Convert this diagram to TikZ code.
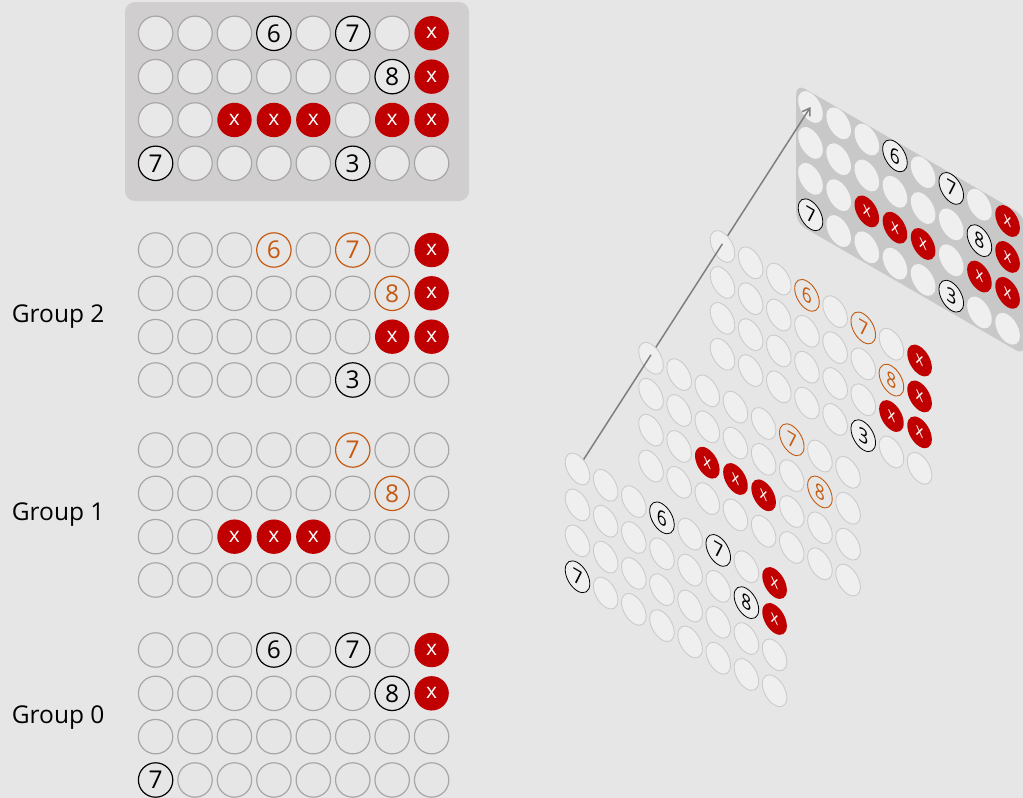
\documentclass[tikz,border=0pt]{standalone}
\usepackage{fontspec}
\setmainfont{Open Sans}
\usetikzlibrary{calc,arrows.meta}
\definecolor{bg}{HTML}{E6E6E6}
\definecolor{panel}{HTML}{D0CECE}
\definecolor{cellfill}{HTML}{E8E8E8}
\definecolor{cellline}{HTML}{A6A6A6}
\definecolor{redx}{HTML}{C00000}
\definecolor{orng}{HTML}{C55A11}
\definecolor{tdfill}{HTML}{EFEFEF}
\definecolor{tdline}{HTML}{CBCBCB}
\definecolor{tdpanel}{HTML}{C8C8C8}
\definecolor{arrowgray}{HTML}{7F7F7F}
\pgfdeclarelayer{L0}
\pgfdeclarelayer{L1}
\pgfdeclarelayer{L2}
\pgfdeclarelayer{L3}
\pgfdeclarelayer{L4}
\pgfdeclarelayer{L5}
\pgfsetlayers{L0,L1,L2,L3,L4,L5,main}
\newcommand\cellrow[3]{\foreach \s/\t [count=\i from 0] in {#3} {\node[cell-\s] (#1-#2-\i) at ({\i*39.43},{#2*43.33}) {\t};}}
\newcommand\gridT[1]{%
  \cellrow{#1}{0}{e/{},e/{},e/{},k/6,e/{},k/7,e/{},r/x}
  \cellrow{#1}{1}{e/{},e/{},e/{},e/{},e/{},e/{},k/8,r/x}
  \cellrow{#1}{2}{e/{},e/{},r/x,r/x,r/x,e/{},r/x,r/x}
  \cellrow{#1}{3}{k/7,e/{},e/{},e/{},e/{},k/3,e/{},e/{}}}
\newcommand\gridB[1]{%
  \cellrow{#1}{0}{e/{},e/{},e/{},o/6,e/{},o/7,e/{},r/x}
  \cellrow{#1}{1}{e/{},e/{},e/{},e/{},e/{},e/{},o/8,r/x}
  \cellrow{#1}{2}{e/{},e/{},e/{},e/{},e/{},e/{},r/x,r/x}
  \cellrow{#1}{3}{e/{},e/{},e/{},e/{},e/{},k/3,e/{},e/{}}}
\newcommand\gridA[1]{%
  \cellrow{#1}{0}{e/{},e/{},e/{},e/{},e/{},o/7,e/{},e/{}}
  \cellrow{#1}{1}{e/{},e/{},e/{},e/{},e/{},e/{},o/8,e/{}}
  \cellrow{#1}{2}{e/{},e/{},r/x,r/x,r/x,e/{},e/{},e/{}}
  \cellrow{#1}{3}{e/{},e/{},e/{},e/{},e/{},e/{},e/{},e/{}}}
\newcommand\gridZ[1]{%
  \cellrow{#1}{0}{e/{},e/{},e/{},k/6,e/{},k/7,e/{},r/x}
  \cellrow{#1}{1}{e/{},e/{},e/{},e/{},e/{},e/{},k/8,r/x}
  \cellrow{#1}{2}{e/{},e/{},e/{},e/{},e/{},e/{},e/{},e/{}}
  \cellrow{#1}{3}{k/7,e/{},e/{},e/{},e/{},e/{},e/{},e/{}}}
\begin{document}
\begin{tikzpicture}[x=1pt,y=-1pt,
  cell/.style={circle, minimum size=34.4pt, inner sep=0pt, font=\fontsize{24.5}{24.5}\selectfont},
  emptycell/.style={draw=cellline, line width=1.2pt},
  blackcell/.style={draw=black, line width=1.2pt},
  orangecell/.style={draw=orng, text=orng, line width=1.2pt},
  redcell/.style={fill=redx, text=white, font=\fontsize{21}{21}\selectfont},
  cell-e/.style={cell, emptycell},
  cell-k/.style={cell, blackcell},
  cell-o/.style={cell, orangecell},
  cell-r/.style={cell, redcell},
  topgrid/.style={emptycell/.style={draw=cellline, fill=cellfill, line width=1.2pt},
                  blackcell/.style={draw=black, fill=cellfill, line width=1.2pt}},
  tdgrid/.style={transform shape,
                 emptycell/.style={draw=tdline, fill=tdfill, line width=0.9pt},
                 blackcell/.style={draw=black, fill=tdfill, line width=0.8pt},
                 orangecell/.style={draw=orng, text=orng, line width=0.9pt}},
  tdback/.style={tdgrid, emptycell/.style={fill=tdfill}},
  lbl/.style={font=\fontsize{24.5}{28}\selectfont, inner sep=0pt, anchor=base west},
  axis/.style={draw=arrowgray, line width=1.5pt}]
\begin{pgfonlayer}{L0}
\fill[bg] (0,0) rectangle (1023,798);
\end{pgfonlayer}
\useasboundingbox (0,0) rectangle (1023,798);
% flat grids
\fill[panel, rounded corners=10pt] (125,2) rectangle (469,201);
\begin{scope}[shift={(155.6,33.3)}, topgrid]
  \gridT{ft}
\end{scope}
\begin{scope}[shift={(155.6,250)}]
  \gridB{fb}
\end{scope}
\begin{scope}[shift={(155.6,450)}]
  \gridA{fa}
\end{scope}
\begin{scope}[shift={(155.6,650)}]
  \gridZ{fz}
\end{scope}
\node[lbl] (lab2) at (11.7,322) {Group 2};
\node[lbl] (lab1) at (11.7,520.5) {Group 1};
\node[lbl] (lab0) at (11.7,723.5) {Group 0};
% 3D planes
\begin{pgfonlayer}{L0}
\begin{scope}[shift={(810.5,107)}, cm={0.714,-0.413,0,0.829,(0,0)}, tdback]
  \fill[tdpanel, rounded corners=10pt] (-20,-18) rectangle (300,150);
  \gridT{dt}
\end{scope}
\end{pgfonlayer}
\begin{pgfonlayer}{L2}
\begin{scope}[shift={(722.5,246.5)}, cm={0.714,-0.413,0,0.829,(0,0)}, tdgrid]
  \gridB{db}
\end{scope}
\end{pgfonlayer}
\begin{pgfonlayer}{L4}
\begin{scope}[shift={(651,358.3)}, cm={0.714,-0.413,0,0.829,(0,0)}, tdgrid]
  \gridA{da}
\end{scope}
\end{pgfonlayer}
\begin{scope}[shift={(577.5,469)}, cm={0.714,-0.413,0,0.829,(0,0)}, tdgrid]
  \gridZ{dz}
\end{scope}
% axis through the planes
\coordinate (q1) at ($(dz-0-0.center)!0.3155!(dt-0-0.center)$);
\coordinate (q2) at ($(dz-0-0.center)!0.622!(dt-0-0.center)$);
\begin{pgfonlayer}{L1}
\draw[axis, -{Straight Barb[length=7pt,width=9pt]}] (q2) -- (dt-0-0.center);
\end{pgfonlayer}
\begin{pgfonlayer}{L3}
\draw[axis] (q1) -- (q2);
\end{pgfonlayer}
\begin{pgfonlayer}{L5}
\draw[axis] (dz-0-0.center) -- (q1);
\end{pgfonlayer}
\end{tikzpicture}
\end{document}
